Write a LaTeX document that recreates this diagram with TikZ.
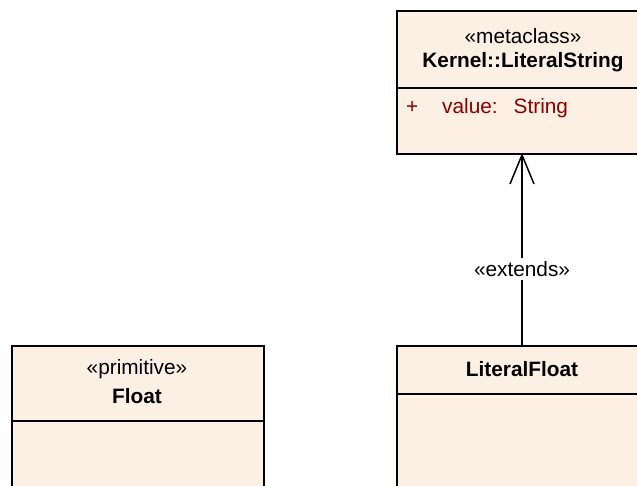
\documentclass[tikz,border=0pt]{standalone}
\usepackage{fontspec}
\setmainfont{Liberation Sans}
\usetikzlibrary{arrows.meta}
\definecolor{boxfill}{RGB}{251,240,227}
\definecolor{attrred}{RGB}{140,0,0}
\tikzset{
  classbox/.style={draw=black, line width=1.6pt, fill=boxfill, rectangle, anchor=north west, inner sep=0pt},
  divider/.style={line width=1.6pt},
  txt/.style={font=\fontsize{20.8}{24}\selectfont, inner sep=0pt, anchor=center},
  btxt/.style={font=\fontsize{20.8}{24}\selectfont\bfseries, inner sep=0pt, anchor=center},
  attr/.style={font=\fontsize{20.8}{24}\selectfont, text=attrred, inner sep=0pt, anchor=base west},
  ext/.style={line width=1.5pt, -{Straight Barb[length=29pt,width=24pt,line width=1.5pt]}}
}
\begin{document}
\begin{tikzpicture}[x=1pt,y=-1pt]
\useasboundingbox (0,0) rectangle (637,486);
\clip (0,0) rectangle (637,486);
% Kernel::LiteralString
\node[classbox, minimum width=254pt, minimum height=143pt] (ls) at (396,10) {};
\draw[divider] (396,88) -- (650,88);
\node[txt] (lsst) at (523,36) {«metaclass»};
\node[btxt] (lsname) at (523,62) {Kernel::LiteralString};
\node[attr] (lsvis) at (406,114) {+};
\node[attr] (lsattr) at (442,114) {value:\hspace{16pt}String};
% Float
\node[classbox, minimum width=252pt, minimum height=160pt] (fl) at (11,345) {};
\draw[divider] (11,421) -- (263,421);
\node[txt] (flst) at (137,369) {«primitive»};
\node[btxt] (flname) at (137,396) {Float};
% LiteralFloat
\node[classbox, minimum width=254pt, minimum height=160pt] (lf) at (396,345) {};
\draw[divider] (396,394) -- (650,394);
\node[btxt] (lfname) at (522,369) {LiteralFloat};
% extends
\draw[ext] (lf.north -| 522,0) -- (522,153) coordinate (tip);
\node[txt, fill=white, inner xsep=2pt, inner ysep=3pt] (extl) at (522,269) {«extends»};
\end{tikzpicture}
\end{document}
